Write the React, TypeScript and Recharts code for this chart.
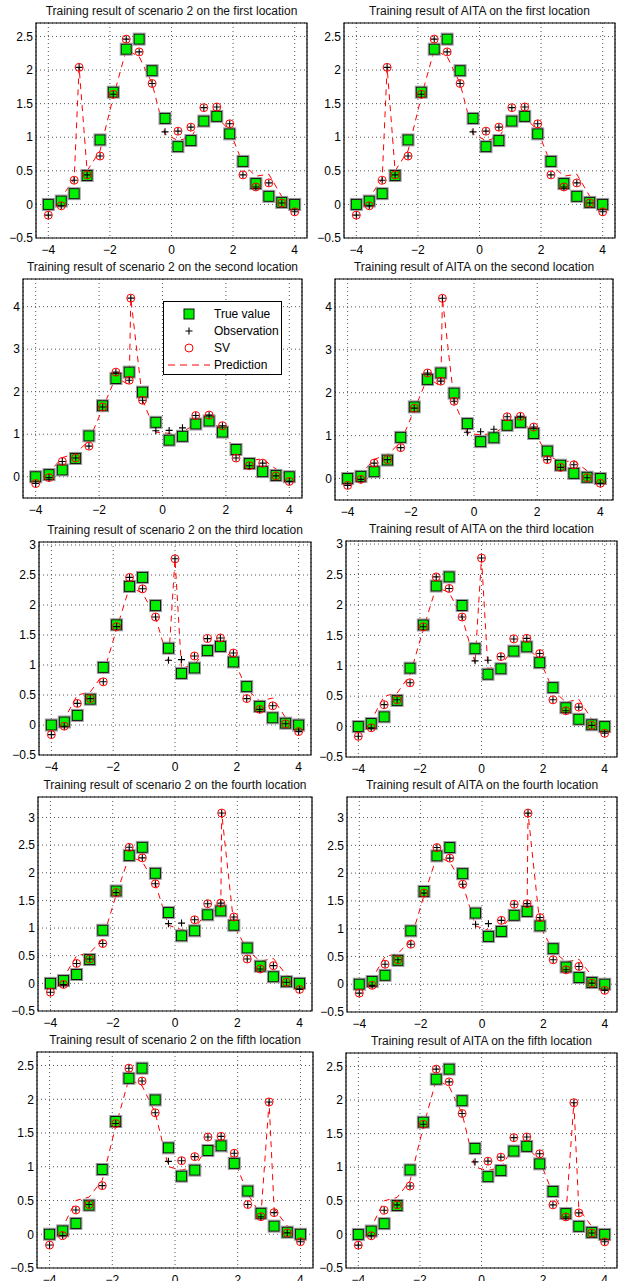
import { ComposedChart, Scatter, Line, XAxis, YAxis, CartesianGrid, ReferenceArea } from 'recharts';

// sample positions and the shared true / observed values
const xs = [-4, -3.58, -3.16, -2.74, -2.32, -1.89, -1.47, -1.05, -0.63, -0.21, 0.21, 0.63, 1.05, 1.47, 1.89, 2.32, 2.74, 3.16, 3.58, 4];
const trueValue = [0.0, 0.05, 0.16, 0.43, 0.96, 1.67, 2.31, 2.46, 1.99, 1.28, 0.86, 0.95, 1.24, 1.31, 1.05, 0.64, 0.31, 0.12, 0.03, 0.0];
const observation = [-0.16, -0.02, 0.36, 0.44, 0.72, 1.64, 2.46, 2.27, 1.8, 1.08, 1.09, 1.15, 1.44, 1.45, 1.2, 0.44, 0.26, 0.32, 0.02, -0.11];

// one outlier per location
const outlierX = [-3.0, -1.0, 0.0, 1.5, 3.0];
const outlierY = [2.04, 4.2, 2.77, 3.08, 1.96];

// prediction at the sorted sample positions (outlier included)
const predFirst = [0.0, 0.1, 0.38, 2.04, 0.5, 0.8, 1.6, 2.3, 2.2, 1.8, 1.05, 0.95, 1.0, 1.3, 1.3, 1.1, 0.6, 0.42, 0.45, 0.12, 0.02];
const predSecond = [0.0, 0.1, 0.45, 0.55, 0.85, 1.6, 2.35, 2.15, 4.2, 1.8, 1.05, 1.02, 1.05, 1.25, 1.3, 1.12, 0.55, 0.38, 0.42, 0.18, 0.02];
const predThird = [0.0, 0.1, 0.5, 0.55, 0.85, 1.6, 2.3, 2.2, 1.8, 1.05, 2.77, 0.95, 1.0, 1.3, 1.3, 1.1, 0.6, 0.4, 0.45, 0.12, 0.02];
const predFourth = [0.0, 0.1, 0.5, 0.55, 0.8, 1.6, 2.3, 2.2, 1.8, 1.05, 0.97, 1.0, 1.3, 1.32, 3.08, 1.05, 0.6, 0.4, 0.45, 0.15, 0.02];
const predFifth = [0.0, 0.1, 0.5, 0.55, 0.8, 1.6, 2.3, 2.2, 1.8, 1.0, 0.95, 1.0, 1.3, 1.3, 1.1, 0.6, 0.28, 1.96, 0.38, 0.12, 0.02];
const predictions = [predFirst, predSecond, predThird, predFourth, predFifth];

// indices of observations that are not support vectors
const nonSV = [[9], [9, 10, 11], [9, 10], [9, 10], [9]];

const locationNames = ['first', 'second', 'third', 'fourth', 'fifth'];
const methods = ['scenario 2', 'AITA'];
const xTicks = [-4, -2, 0, 2, 4];
const yTopByRow = [2.7, 4.65, 3.05, 3.37, 2.7];
const yTicksByRow = [
  [-0.5, 0, 0.5, 1, 1.5, 2, 2.5],
  [0, 1, 2, 3, 4],
  [-0.5, 0, 0.5, 1, 1.5, 2, 2.5, 3],
  [-0.5, 0, 0.5, 1, 1.5, 2, 2.5, 3],
  [-0.5, 0, 0.5, 1, 1.5, 2, 2.5],
];

// plot boxes [left, top, right, bottom] per row / column
const BOXES = [
  [[36, 23, 307, 238], [344, 23, 615, 238]],
  [[23, 279, 302, 498], [335, 279, 613, 500]],
  [[39, 542, 311, 755], [346, 541, 617, 757]],
  [[38, 797, 312, 1011], [347, 797, 617, 1012]],
  [[37, 1052, 313, 1268], [346, 1053, 617, 1268]],
];

const FONT = '"Liberation Sans", Arial, Helvetica, sans-serif';
const fmt = (v: number) => (v < 0 ? '\u2212' + Math.abs(v) : String(v));

const SquareMark = (p: any) => {
  if (p.cx == null) return null;
  return (
    <g>
      <rect x={p.cx - 6} y={p.cy - 6} width={12} height={12} fill="none" stroke="#9a9a9a" strokeWidth={1} />
      <rect x={p.cx - 5} y={p.cy - 5} width={10} height={10} fill="#00ee00" stroke="#111" strokeWidth={1} />
    </g>
  );
};

const PlusMark = (p: any) => {
  if (p.cx == null) return null;
  const { cx, cy } = p;
  return <path d={`M${cx - 3.5},${cy}H${cx + 3.5}M${cx},${cy - 3.5}V${cy + 3.5}`} stroke="#000" strokeWidth={1.1} fill="none" />;
};

const CircleMark = (p: any) => {
  if (p.cx == null) return null;
  return <circle cx={p.cx} cy={p.cy} r={4} fill="none" stroke="#ff0000" strokeWidth={1} />;
};

function Panel({ row, col }: { row: number; col: number }) {
  const [x0, y0, x1, y1] = BOXES[row][col];
  const colLeft = col === 0 ? 0 : 312;
  const yw = x0 - colLeft;
  const MT = 4, MR = 3, XH = 26;
  const w = x1 - x0 + yw + MR;
  const h = y1 - y0 + MT + XH;
  const yTop = yTopByRow[row];

  const truth = xs.map((x, i) => ({ x, y: trueValue[i] }));
  const obsAll = xs.map((x, i) => ({ x, y: observation[i] }));
  const outlier = { x: outlierX[row], y: outlierY[row] };
  const obs = [...obsAll, outlier];
  const sv = [...obsAll.filter((_, i) => !nonSV[row].includes(i)), outlier];
  const px = [...xs, outlierX[row]].sort((a, b) => a - b);
  const pred = px.map((x, i) => ({ x, y: predictions[row][i] }));

  return (
    <>
      <div
        style={{
          position: 'absolute', left: x0, top: y0 - 19, width: x1 - x0, textAlign: 'center',
          fontFamily: FONT, fontSize: 12, lineHeight: '14px', color: '#111', whiteSpace: 'nowrap',
        }}
      >
        Training result of {methods[col]} on the {locationNames[row]} location
      </div>
      <div style={{ position: 'absolute', left: colLeft, top: y0 - MT }}>
        <ComposedChart width={w} height={h} margin={{ top: MT, right: MR, bottom: 0, left: 0 }}>
          <CartesianGrid stroke="#444" strokeDasharray="1 3" strokeWidth={0.9} />
          <XAxis
            type="number" dataKey="x" domain={[-4.4, 4.4]} allowDataOverflow ticks={xTicks} interval={0}
            height={XH} tickLine={false} axisLine={false} tickSize={6} tickMargin={1}
            tickFormatter={fmt} tick={{ fill: '#000', fontSize: 12, fontFamily: FONT }}
          />
          <YAxis
            type="number" dataKey="y" domain={[-0.5, yTop]} allowDataOverflow ticks={yTicksByRow[row]} interval={0}
            width={yw} tickLine={false} axisLine={false} tickSize={3} tickMargin={0}
            tickFormatter={fmt} tick={{ fill: '#000', fontSize: 12, fontFamily: FONT }}
          />
          <ReferenceArea x1={-4.4} x2={4.4} y1={-0.5} y2={yTop} fill="none" stroke="#000" strokeWidth={1.2} ifOverflow="visible" />
          <Scatter data={truth} shape={SquareMark} isAnimationActive={false} />
          <Scatter data={obs} shape={PlusMark} isAnimationActive={false} />
          <Scatter data={sv} shape={CircleMark} isAnimationActive={false} />
          <Line data={pred} dataKey="y" stroke="#ff0000" strokeWidth={1} strokeDasharray="6 5" dot={false} activeDot={false} isAnimationActive={false} />
        </ComposedChart>
      </div>
    </>
  );
}

function LegendBox() {
  const rows = ['True value', 'Observation', 'SV', 'Prediction'];
  const icon = (i: number) => {
    if (i === 0) return <rect x={20} y={3} width={10} height={10} fill="#00ee00" stroke="#111" strokeWidth={1} />;
    if (i === 1) return <path d="M21.5,8H28.5M25,4.5V11.5" stroke="#000" strokeWidth={1.1} />;
    if (i === 2) return <circle cx={25} cy={8} r={4} fill="none" stroke="#ff0000" strokeWidth={1} />;
    return <line x1={4} y1={8} x2={46} y2={8} stroke="#ff0000" strokeWidth={1} strokeDasharray="7 5" />;
  };
  return (
    <div
      style={{
        position: 'absolute', left: 163, top: 301, width: 119, height: 74, border: '1px solid #000',
        background: '#fff', boxSizing: 'border-box', fontFamily: FONT, fontSize: 12, color: '#000', paddingTop: 3,
      }}
    >
      {rows.map((r, i) => (
        <div key={r} style={{ display: 'flex', alignItems: 'center', height: 17 }}>
          <svg width={50} height={16} style={{ flex: 'none' }}>{icon(i)}</svg>
          <span>{r}</span>
        </div>
      ))}
    </div>
  );
}

export default function App() {
  return (
    <div style={{ position: 'absolute', left: 0, top: 0, width: 620, height: 1281, background: '#fff' }}>
      {BOXES.map((r, row) => r.map((_, col) => <Panel key={`${row}-${col}`} row={row} col={col} />))}
      <LegendBox />
    </div>
  );
}
